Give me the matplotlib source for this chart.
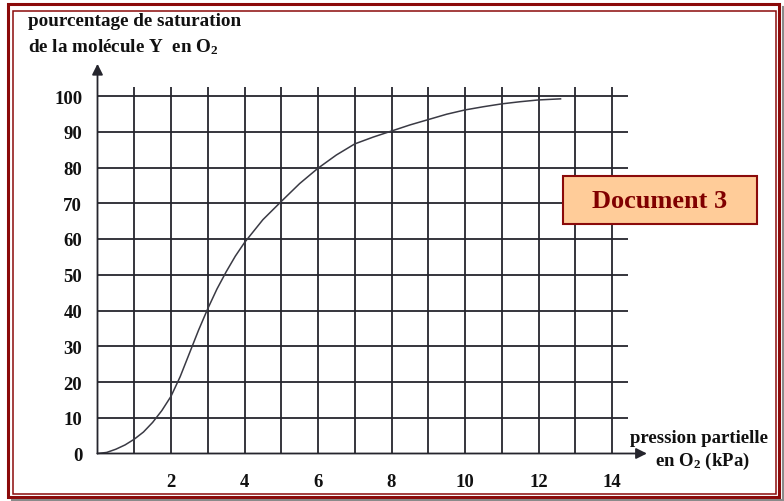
import matplotlib.pyplot as plt
from matplotlib.patches import Rectangle
from matplotlib.lines import Line2D

plt.rcParams['font.family'] = ['Liberation Serif', 'DejaVu Serif']
plt.rcParams['font.weight'] = 'bold'
plt.rcParams['mathtext.fontset'] = 'custom'
plt.rcParams['mathtext.rm'] = 'Liberation Serif:bold'
plt.rcParams['mathtext.it'] = 'Liberation Serif:bold'
plt.rcParams['mathtext.default'] = 'rm'

# data
pression = [0, 0.25, 0.5, 0.75, 1, 1.25, 1.5, 1.75, 2, 2.25, 2.5, 2.75, 3, 3.25, 3.5, 3.75,
            4, 4.5, 5, 5.5, 6, 6.5, 7, 7.5, 8, 8.5, 9, 9.5, 10, 10.5, 11, 11.5, 12, 12.6]
saturation = [0, 0.3, 1.2, 2.4, 4, 6, 8.7, 12, 16, 21.5, 28, 34.5, 40.5, 46, 50.8, 55.2,
              59, 65.4, 70.5, 75.5, 79.8, 83.5, 86.6, 88.5, 90.2, 91.9, 93.4, 94.9, 96.1,
              97, 97.8, 98.4, 98.9, 99.2]
x_ticks = [2, 4, 6, 8, 10, 12, 14]
y_ticks = [0, 10, 20, 30, 40, 50, 60, 70, 80, 90, 100]
x_grid = list(range(1, 15))
y_grid = list(range(10, 101, 10))

W, H = 784, 502
ink = '#25252d'
red = '#8b0a0a'

fig = plt.figure(figsize=(W / 100, H / 100), dpi=100)


def fx(px):
    return px / W


def fy(py):
    return 1 - py / H


# frame
fig.add_artist(Line2D([fx(783), fx(783)], [fy(8), fy(502)], color='#8a8a8a', lw=1.5))
fig.add_artist(Line2D([fx(12), fx(784)], [fy(501), fy(501)], color='#8a8a8a', lw=1.5))
fig.add_artist(Rectangle((fx(8), fy(498)), fx(779 - 8), (498 - 5) / H, fill=False,
                         edgecolor=red, lw=2.2))
fig.add_artist(Rectangle((fx(13.5), fy(495)), fx(776 - 13.5), (495 - 11.5) / H, fill=False,
                         edgecolor=red, lw=1.1))

ax = fig.add_axes([fx(97.5), 47.5 / H, 15 * 36.75 / W, 110 * 3.575 / H])
ax.set_xlim(0, 15)
ax.set_ylim(0, 110)
for s in ax.spines.values():
    s.set_visible(False)
ax.patch.set_visible(False)

ax.vlines(x_grid, 0, 102.5, color=ink, lw=1.3, clip_on=False)
ax.hlines(y_grid, 0, 14.43, color=ink, lw=1.3, clip_on=False)
ax.annotate('', xy=(14.95, 0), xytext=(0, 0), annotation_clip=False,
            arrowprops=dict(arrowstyle='-|>', color=ink, lw=1.3, mutation_scale=16,
                            shrinkA=0, shrinkB=0))
ax.annotate('', xy=(0, 109), xytext=(0, 0), annotation_clip=False,
            arrowprops=dict(arrowstyle='-|>', color=ink, lw=1.3, mutation_scale=16,
                            shrinkA=0, shrinkB=0))

ax.plot(pression, saturation, color='#3a3a44', lw=1.1, clip_on=False)

ax.set_xticks(x_ticks)
ax.set_xticklabels([str(v) for v in x_ticks])
ax.set_yticks(y_ticks)
ax.set_yticklabels([str(v) for v in y_ticks])
ax.tick_params(axis='x', length=0, pad=14, labelsize=13.5, labelcolor='#111')
ax.tick_params(axis='y', length=0, pad=11, labelsize=13.5, labelcolor='#111')

fig.text(fx(28), fy(26), 'pourcentage de saturation', fontsize=13.8, color='#111',
         ha='left', va='baseline')
fig.text(fx(28), fy(52), 'de la molécule Y  en O$_2$', fontsize=13.8, color='#111',
         ha='left', va='baseline')
fig.text(fx(699), fy(443), 'pression partielle', fontsize=13.5, color='#111',
         ha='center', va='baseline')
fig.text(fx(702), fy(466), 'en O$_2$ (kPa)', fontsize=13.5, color='#111',
         ha='center', va='baseline')

# Document 3 label
fig.add_artist(Rectangle((fx(563), fy(225)), fx(757 - 563), (225 - 177) / H,
                         facecolor='#ffcc99', edgecolor=red, lw=1.5))
fig.text(fx(660), fy(202), 'Document 3', fontsize=19, color='#800000',
         ha='center', va='center')

fig.savefig('out.png', dpi=100)
